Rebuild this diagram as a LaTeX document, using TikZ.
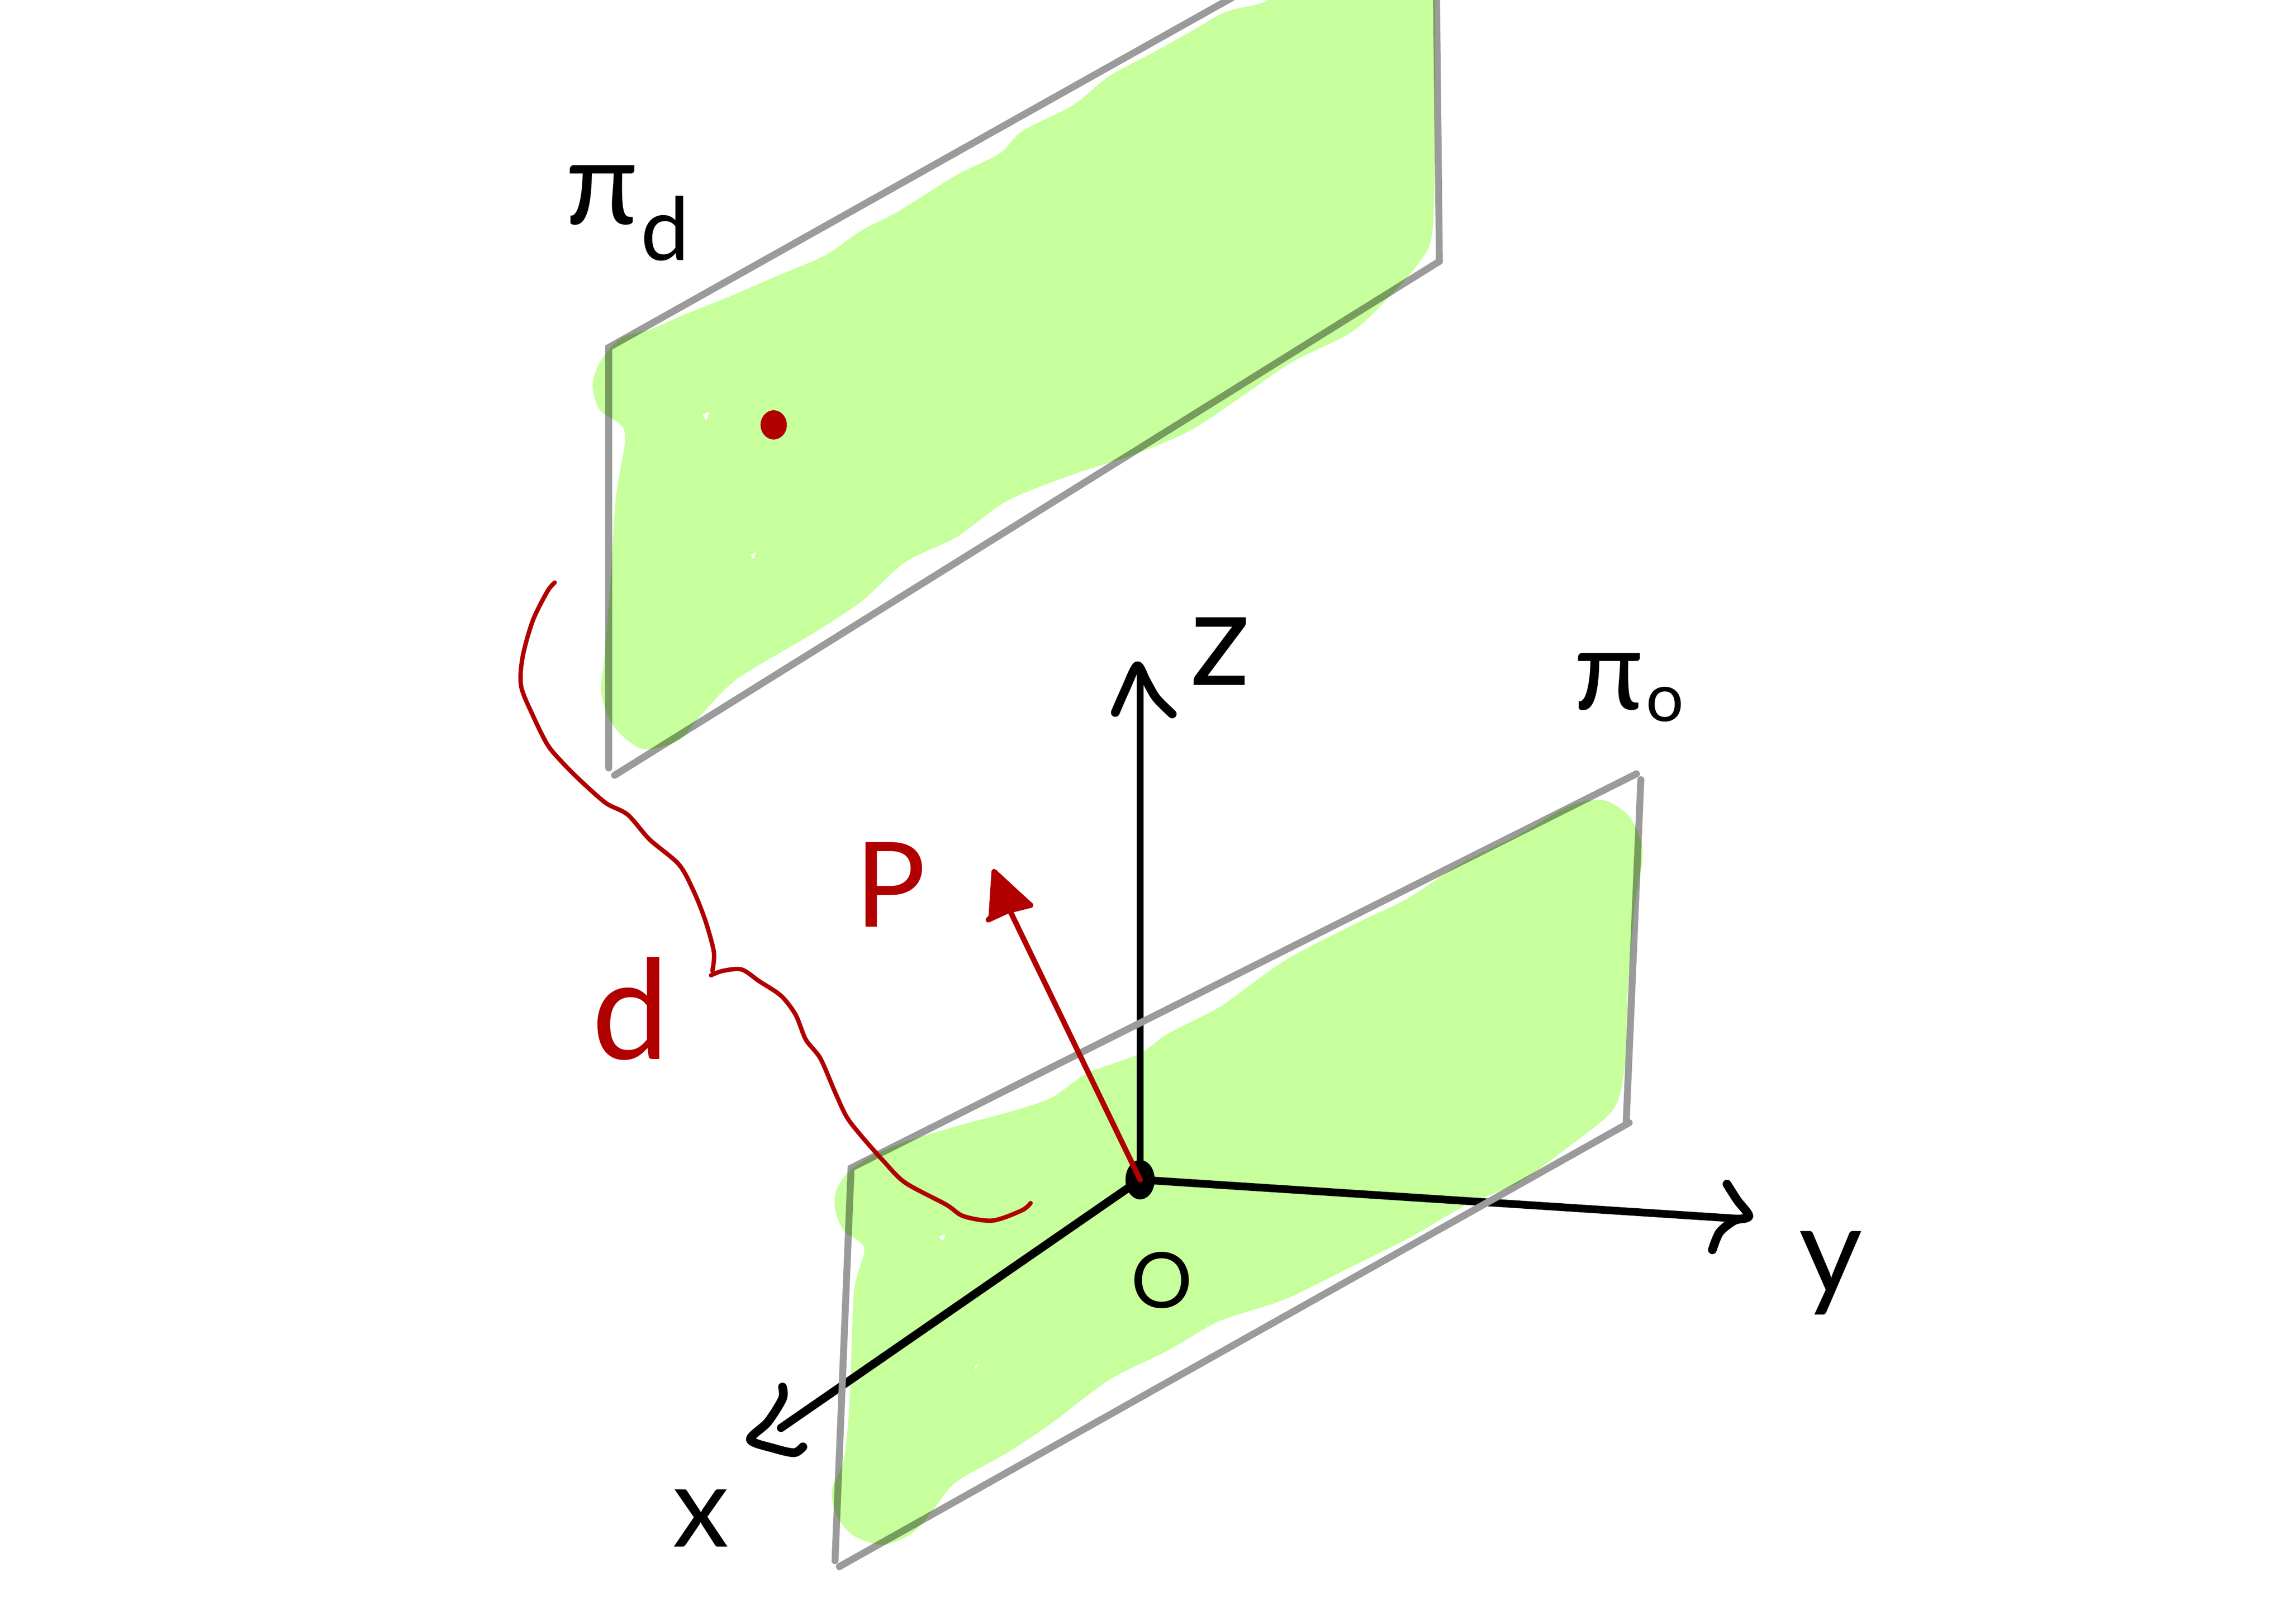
\documentclass[tikz,border=0pt]{standalone}
\usepackage{fontspec}
\setmainfont{Lato}
\definecolor{planegreen}{HTML}{C6FF9B}
\definecolor{edgegrey}{HTML}{9B9B9B}
\definecolor{inkred}{HTML}{B00000}
\tikzset{
  axisline/.style={draw=black,line cap=round,line join=round},
  axishead/.style={draw=black,line width=1.7pt,line cap=round,line join=round},
  planeedge/.style={draw=edgegrey,line width=1.35pt,line cap=round},
  planefill/.style={fill=planegreen},
  redstroke/.style={draw=inkred,line width=1.05pt,line cap=round,line join=round},
  redcurve/.style={draw=inkred,line width=0.85pt,line cap=round,line join=round},
  speck/.style={fill=white},
  blacklabel/.style={inner sep=0pt,text=black},
  redlabel/.style={inner sep=0pt,text=inkred},
}
\newcommand{\fsz}[1]{\fontsize{#1}{#1}\selectfont}
\begin{document}
\begin{tikzpicture}[x=0.01cm,y=-0.01cm]
\fill[white] (0,0) rectangle (1568,1112.3);
\useasboundingbox (0,0) rectangle (1568,1112.3);
\clip (0,0) rectangle (1568,1112.3);
% named points
\coordinate (O) at (781,808);
\coordinate (ztip) at (781,458);
\coordinate (ytip) at (1195,835);
\coordinate (xtip) at (535,978);
\coordinate (ptip) at (690,620);
% axes (under everything else)
\draw[axisline,line width=1.3pt] (O) -- (ztip);
\draw[axisline,line width=1.5pt] (O) -- (ytip);
\draw[axisline,line width=1.6pt] (O) -- (xtip);
\draw[axishead] plot[smooth,tension=0.5] coordinates {(764,488) (771,472) (779,456) (785,466) (792,478) (803,489)};
\draw[axishead] plot[smooth,tension=0.5] coordinates {(1183,811) (1190,822) (1198,833) (1188,836) (1178,844) (1173,856)};
\draw[axishead] plot[smooth,tension=0.5] coordinates {(536,950) (536,958) (526,974) (514,986) (530,992) (544,995) (550,991)};
\fill[black] (O) ellipse [x radius=10,y radius=13.5];
% plane outlines
\coordinate (a1) at (417,238);
\coordinate (a2) at (850,-5);
\coordinate (a3) at (417,526);
\coordinate (a4) at (421,531);
\coordinate (a5) at (986,179);
\coordinate (a6) at (984,-5);
\draw[planeedge] (a2) -- (a1) -- (a3);
\draw[planeedge] (a4) -- (a5);
\draw[planeedge] (a6) -- (a5);
\coordinate (b1) at (583,800);
\coordinate (b2) at (1121,530);
\coordinate (b3) at (1124,534);
\coordinate (b4) at (1114,768);
\coordinate (b5) at (1116,769);
\coordinate (b6) at (575,1073);
\coordinate (b7) at (572,1069);
\draw[planeedge] (b2) -- (b1) -- (b7);
\draw[planeedge] (b3) -- (b4);
\draw[planeedge] (b5) -- (b6);
% green washes
\begin{scope}[blend mode=multiply]
\fill[planefill] plot[smooth cycle,tension=0.5] coordinates {
 (983,-40) (900,-40) (872,-2) (840,8) (815,22) (790,36) (760,52) (735,72) (700,90) (685,105) (655,120) (615,145)
 (590,158) (565,175) (530,190) (500,203) (470,215) (447,225) (425,232) (411,248) (406,264) (411,281) (428,296)
 (422,340) (418,400) (414,450) (412,475) (420,497) (440,513) (465,507) (480,490) (505,465) (555,435) (590,412) (620,385)
 (655,368) (690,343) (735,325) (775,312) (815,295) (850,272) (885,248) (925,228)
 (950,205) (972,180) (981,160) (983,100) (983,40) (983,0)};
\fill[planefill] plot[smooth cycle,tension=0.5] coordinates {
 (1098,548) (1075,552) (1040,572) (1000,592) (965,615) (930,632) (885,655) (860,672) (835,690)
 (800,708) (780,722) (745,735) (720,752) (690,762) (660,770) (620,782) (595,793) (581,803)
 (573,815) (572,828) (578,843) (592,855) (585,885) (582,960) (578,1000) (570,1020) (573,1038)
 (585,1052) (605,1058) (625,1050) (640,1033) (655,1015) (690,995) (720,975) (760,945) (800,925)
 (835,905) (880,890) (925,868) (965,848) (1005,825) (1040,810) (1075,785) (1105,760) (1113,730)
 (1115,680) (1120,620) (1125,590) (1124,575) (1115,558)};
\end{scope}
% small gaps in the wash
\fill[speck] (481,284) -- (486,282) -- (484,288) -- cycle;
\fill[speck] (514,380) -- (518,378) -- (516,383) -- cycle;
\fill[speck] (643,847) -- (648,845) -- (646,850) -- cycle;
\fill[speck] (668,936) -- (671,933) -- (668,938) -- cycle;
% red drawing
\draw[redstroke] (O) -- (ptip);
\filldraw[redstroke,fill=inkred] (681,597) -- (679,628) -- (677,630) -- (690,624) -- (706,620) -- (695,610) -- cycle;
\fill[inkred] (530,291) ellipse [x radius=9,y radius=10];
\draw[redcurve] plot[smooth,tension=0.5] coordinates {
 (380,399) (375,405) (365,425) (358,450) (357,470) (365,490) (375,510) (385,522) (398,535)
 (415,550) (430,558) (445,575) (465,592) (475,610) (483,630) (489,652) (488,665)};
\draw[redcurve] plot[smooth,tension=0.5] coordinates {
 (487,668) (495,665) (508,664) (520,672) (535,682) (545,695) (552,712) (562,725) (572,748)
 (580,765) (590,778) (605,795) (620,810) (648,825) (660,833) (680,836) (700,829) (706,824)};
% labels
\node[blacklabel] (pid) at (430,146) {\fsz{23}π\hspace{0.02em}\raisebox{-0.3em}{\fsz{17}d}};
\node[blacklabel] (pio) at (1116,471) {\fsz{22}π\hspace{0.02em}\raisebox{-0.1em}{\fsz{13}o}};
\node[blacklabel] (zlab) at (836,446) {\fsz{26}z};
\node[blacklabel] (ylab) at (1254,872) {\fsz{24}y};
\node[blacklabel] (xlab) at (480,1040) {\fsz{22}x};
\node[blacklabel] (olab) at (796,877) {\fsz{15}O};
\node[redlabel] (plab) at (610,606) {\fsz{23}P};
\node[redlabel] (dlab) at (432,691) {\fsz{27}d};
\end{tikzpicture}
\end{document}
